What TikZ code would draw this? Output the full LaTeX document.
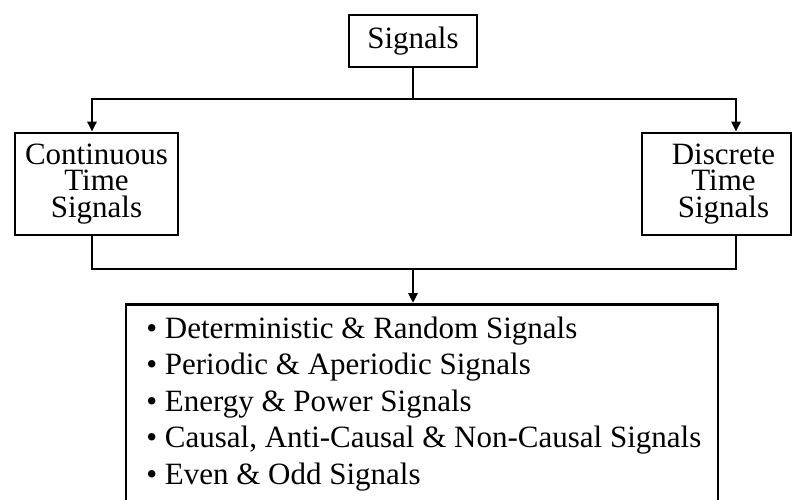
\documentclass[tikz,border=0pt]{standalone}
\usepackage{fontspec}
\setmainfont{Liberation Serif}
\usetikzlibrary{arrows.meta,calc}
\begin{document}
\begin{tikzpicture}[x=1pt,y=-1pt,
  line width=2.6pt,
  box/.style={draw,line width=2.6pt,inner sep=0pt,align=center},
  txt/.style={font=\fontsize{31}{26.5}\selectfont},
  item/.style={anchor=base west,inner sep=0pt,font=\fontsize{31}{37}\selectfont},
  arr/.style={-{Triangle[width=9pt,length=10pt]}}]
\useasboundingbox (0,0) rectangle (793,500);
\clip (0,0) rectangle (793,500);
\fill[white] (0,0) rectangle (793,500);
\node[box,txt,minimum width=128pt,minimum height=52pt] (sig) at (413,41) {Signals};
\node[box,txt,minimum width=163pt,minimum height=102pt] (ct) at (96.5,184) {Continuous\\Time\\Signals};
\node[box,txt,minimum width=149pt,minimum height=102pt] (dt) at (716.5,184) {\hspace*{14pt}Discrete\\\hspace*{14pt}Time\\\hspace*{14pt}Signals};
\node[box,minimum width=592pt,minimum height=260pt,anchor=north] (list) at (422,303) {};
\coordinate (j1) at (413,99);
\coordinate (j2) at (413,269);
\draw (sig.south) -- (j1);
\draw[arr] (j1) -| ([xshift=-4.5pt]ct.north);
\draw[arr] (j1) -| ([xshift=19.5pt]dt.north);
\draw ([xshift=-4.5pt]ct.south) |- (j2);
\draw ([xshift=19.5pt]dt.south) |- (j2);
\draw[arr] (j2) -- (list.north -| j2);
\node[item] (i1) at (145,338) {\textbullet\ Deterministic \& Random Signals};
\node[item] (i2) at (145,374.5) {\textbullet\ Periodic \& Aperiodic Signals};
\node[item] (i3) at (145,411) {\textbullet\ Energy \& Power Signals};
\node[item] (i4) at (145,447.5) {\textbullet\ Causal, Anti-Causal \& Non-Causal Signals};
\node[item] (i5) at (145,484) {\textbullet\ Even \& Odd Signals};
\end{tikzpicture}
\end{document}
